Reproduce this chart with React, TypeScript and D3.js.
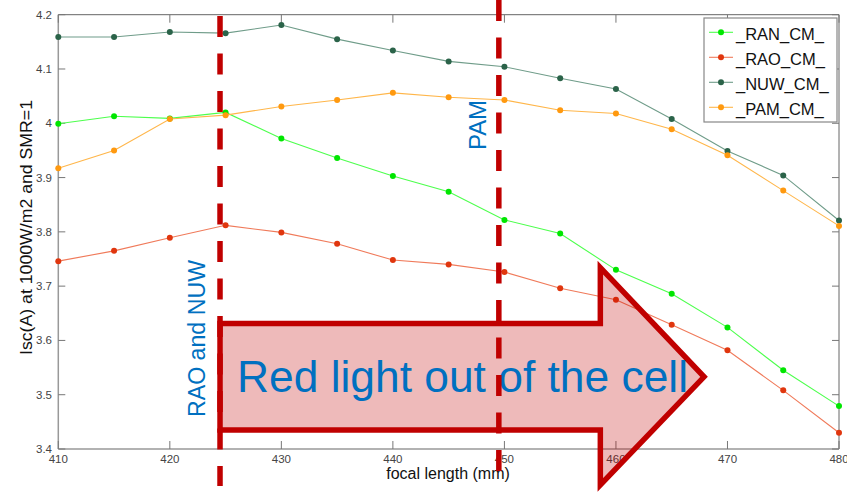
import React from "react";
import * as d3 from "d3";

// focal length (mm)
const focal = [410, 415, 420, 425, 430, 435, 440, 445, 450, 455, 460, 465, 470, 475, 480];

// Isc(A) per configuration
const ran = [3.999, 4.013, 4.009, 4.02, 3.972, 3.936, 3.903, 3.874, 3.822, 3.797, 3.73, 3.686, 3.624, 3.545, 3.479];
const rao = [3.746, 3.765, 3.789, 3.812, 3.799, 3.778, 3.748, 3.74, 3.726, 3.696, 3.675, 3.629, 3.582, 3.508, 3.43];
const nuw = [4.159, 4.159, 4.168, 4.166, 4.181, 4.155, 4.134, 4.114, 4.104, 4.083, 4.063, 4.008, 3.949, 3.904, 3.821];
const pam = [3.917, 3.95, 4.008, 4.015, 4.031, 4.043, 4.056, 4.048, 4.043, 4.024, 4.018, 3.989, 3.941, 3.876, 3.811];

const seriesNames = ["_RAN_CM_", "_RAO_CM_", "_NUW_CM_", "_PAM_CM_"];
const xTicks = [410, 420, 430, 440, 450, 460, 470, 480];
const yTicks = [3.4, 3.5, 3.6, 3.7, 3.8, 3.9, 4.0, 4.1, 4.2];

// annotation positions in data units
const markerLines = [424.5, 449.5];
const arrowBody = { x0: 424.5, x1: 458.6, yTop: 3.631, yBottom: 3.435 };
const arrowHead = { yTop: 3.734, yBottom: 3.334, xTip: 467.9, yTip: 3.533 };

const W = 847;
const H = 498;

const styles = [
  { line: "#4dff4d", dot: "#00e600" },
  { line: "#f07a5a", dot: "#e0360e" },
  { line: "#6f9c89", dot: "#2b6349" },
  { line: "#ffb64a", dot: "#ff990f" },
];

export default function App() {
  const x = d3.scaleLinear().domain([410, 480]).range([58.3, 839]);
  const y = d3.scaleLinear().domain([3.4, 4.2]).range([449, 14.7]);
  const series = [ran, rao, nuw, pam];
  const line = d3
    .line<number>()
    .x((_, i) => x(focal[i]))
    .y((v) => y(v));

  const left = x.range()[0];
  const right = x.range()[1];
  const top = y.range()[1];
  const bottom = y.range()[0];

  const arrowPts: [number, number][] = [
    [x(arrowBody.x0), y(arrowBody.yTop)],
    [x(arrowBody.x1), y(arrowBody.yTop)],
    [x(arrowBody.x1), y(arrowHead.yTop)],
    [x(arrowHead.xTip), y(arrowHead.yTip)],
    [x(arrowBody.x1), y(arrowHead.yBottom)],
    [x(arrowBody.x1), y(arrowBody.yBottom)],
    [x(arrowBody.x0), y(arrowBody.yBottom)],
  ];
  const arrowPath = "M" + arrowPts.map((p) => p.join(",")).join("L") + "Z";

  const fmt = (v: number) => String(+v.toFixed(1));
  const font = "'Liberation Sans', Arial, sans-serif";

  return (
    <svg
      width={W}
      height={H}
      style={{ position: "absolute", left: 0, top: 0, background: "#fff" }}
      fontFamily={font}
    >
      <rect width={W} height={H} fill="#fff" />

      {/* frame */}
      <line x1={left} x2={right} y1={top} y2={top} stroke="#666" strokeWidth={1} />
      <line x1={right} x2={right} y1={top} y2={bottom} stroke="#666" strokeWidth={1} />
      <line x1={left} x2={left} y1={top} y2={bottom} stroke="#999" strokeWidth={1.5} />
      <line x1={left} x2={right} y1={bottom} y2={bottom} stroke="#999" strokeWidth={1.5} />

      {/* ticks */}
      {xTicks.map((t) => (
        <g key={"xt" + t}>
          <line x1={x(t)} x2={x(t)} y1={bottom} y2={bottom - 8} stroke="#777" />
          <line x1={x(t)} x2={x(t)} y1={top} y2={top + 8} stroke="#777" />
          <text x={x(t)} y={463} textAnchor="middle" fontSize={11.5} fill="#444">
            {fmt(t)}
          </text>
        </g>
      ))}
      {yTicks.map((t) => (
        <g key={"yt" + t}>
          <line x1={left} x2={left + 7} y1={y(t)} y2={y(t)} stroke="#777" />
          <line x1={right} x2={right - 7} y1={y(t)} y2={y(t)} stroke="#777" />
          <text x={52} y={y(t) + 4} textAnchor="end" fontSize={11.5} fill="#444">
            {fmt(t)}
          </text>
        </g>
      ))}

      {/* axis titles */}
      <text
        transform={`translate(32,227.5) rotate(-90)`}
        textAnchor="middle"
        fontSize={17}
        fill="#111"
        textLength={255}
        lengthAdjust="spacingAndGlyphs"
      >
        Isc(A) at 1000W/m2 and SMR=1
      </text>
      <text x={448} y={479} textAnchor="middle" fontSize={16} fill="#111">
        focal length (mm)
      </text>

      {/* series */}
      {series.map((s, k) => (
        <g key={seriesNames[k]}>
          <path d={line(s) || ""} fill="none" stroke={styles[k].line} strokeWidth={1.1} />
          {s.map((v, i) => (
            <circle key={i} cx={x(focal[i])} cy={y(v)} r={3} fill={styles[k].dot} />
          ))}
        </g>
      ))}

      {/* arrow annotation */}
      <path d={arrowPath} fill="#c00000" fillOpacity={0.27} stroke="none" />
      <path d={arrowPath} fill="none" stroke="#c00000" strokeWidth={5.5} strokeLinejoin="miter" strokeMiterlimit={10} />
      <text
        x={237}
        y={392}
        fontSize={44}
        fill="#0070c0"
        textLength={451}
        lengthAdjust="spacingAndGlyphs"
      >
        Red light out of the cell
      </text>

      {/* vertical labels */}
      <text
        transform={`translate(205,338.5) rotate(-90)`}
        textAnchor="middle"
        fontSize={23.5}
        fill="#0070c0"
        textLength={157}
        lengthAdjust="spacingAndGlyphs"
      >
        RAO and NUW
      </text>
      <text
        transform={`translate(486,125) rotate(-90)`}
        textAnchor="middle"
        fontSize={23.5}
        fill="#0070c0"
        textLength={50}
        lengthAdjust="spacingAndGlyphs"
      >
        PAM
      </text>

      {/* dashed markers */}
      <line
        x1={x(markerLines[0])}
        x2={x(markerLines[0])}
        y1={16}
        y2={486}
        stroke="#c00000"
        strokeWidth={5.5}
        strokeDasharray="21 16.5"
      />
      <line
        x1={x(markerLines[1])}
        x2={x(markerLines[1])}
        y1={0}
        y2={486}
        stroke="#c00000"
        strokeWidth={5.5}
        strokeDasharray="21 16.5"
      />

      {/* legend */}
      <rect x={704} y={18} width={133} height={104} fill="#fff" stroke="#888" strokeWidth={1.2} />
      {seriesNames.map((n, k) => {
        const ly = 32.3 + k * 25;
        return (
          <g key={"lg" + n}>
            <line x1={709} x2={733} y1={ly} y2={ly} stroke={styles[k].line} strokeWidth={1.1} />
            <circle cx={721} cy={ly} r={3} fill={styles[k].dot} />
            <text x={736} y={ly + 7.2} fontSize={16.5} fill="#111">
              {n}
            </text>
          </g>
        );
      })}
    </svg>
  );
}
